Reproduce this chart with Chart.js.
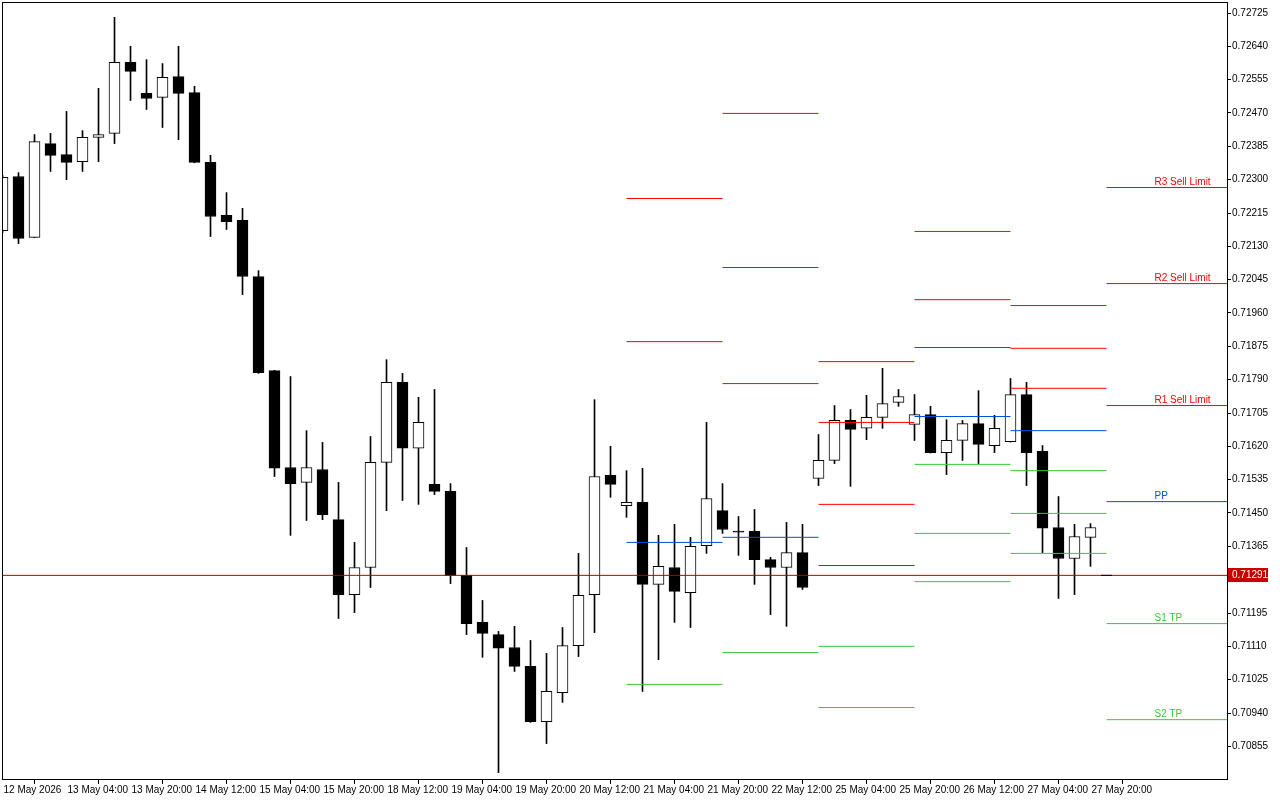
<!DOCTYPE html>
<html>
<head>
<meta charset="utf-8">
<script src="https://cdn.jsdelivr.net/npm/chart.js@4.4.1/dist/chart.umd.min.js"></script>
<style>
  html, body { margin: 0; padding: 0; background: #fff; }
  canvas { display: block; }
</style>
</head>
<body>
<canvas id="chart" width="1280" height="800"></canvas>
<script>
// 4h candles, index 0 = 12 May 12:00
const opens = [
  0.72170, 0.72308, 0.72153, 0.72392, 0.72364, 0.72346, 0.72408, 0.72418, 0.72599, 0.72520,
  0.72510, 0.72563, 0.72522, 0.72344, 0.72209, 0.72196, 0.72053, 0.71813, 0.71566, 0.71528,
  0.71561, 0.71433, 0.71242, 0.71311, 0.71579, 0.71783, 0.71615, 0.71523, 0.71505, 0.71291,
  0.71171, 0.71140, 0.71107, 0.71059, 0.70918, 0.70992, 0.71112, 0.71242, 0.71546, 0.71469,
  0.71477, 0.71268, 0.71311, 0.71247, 0.71367, 0.71456, 0.71404, 0.71403, 0.71331, 0.71311,
  0.71349, 0.71538, 0.71584, 0.71686, 0.71666, 0.71694, 0.71732, 0.71676, 0.71701, 0.71604,
  0.71635, 0.71678, 0.71622, 0.71632, 0.71752, 0.71607, 0.71413, 0.71334, 0.71388
];
const highs = [
  0.72311, 0.72318, 0.72415, 0.72418, 0.72474, 0.72425, 0.72533, 0.72714, 0.72640, 0.72606,
  0.72596, 0.72640, 0.72538, 0.72362, 0.72267, 0.72227, 0.72068, 0.71814, 0.71798, 0.71660,
  0.71630, 0.71528, 0.71375, 0.71645, 0.71841, 0.71806, 0.71745, 0.71765, 0.71525, 0.71362,
  0.71227, 0.71148, 0.71161, 0.71125, 0.71092, 0.71158, 0.71347, 0.71739, 0.71620, 0.71558,
  0.71564, 0.71393, 0.71421, 0.71388, 0.71681, 0.71525, 0.71441, 0.71459, 0.71337, 0.71426,
  0.71421, 0.71650, 0.71724, 0.71714, 0.71750, 0.71819, 0.71765, 0.71752, 0.71722, 0.71688,
  0.71686, 0.71762, 0.71699, 0.71793, 0.71783, 0.71622, 0.71492, 0.71421, 0.71423
];
const lows = [
  0.72165, 0.72137, 0.72152, 0.72321, 0.72300, 0.72321, 0.72346, 0.72392, 0.72502, 0.72479,
  0.72433, 0.72402, 0.72343, 0.72155, 0.72173, 0.72007, 0.71806, 0.71543, 0.71393, 0.71431,
  0.71433, 0.71181, 0.71196, 0.71260, 0.71456, 0.71482, 0.71472, 0.71497, 0.71270, 0.71140,
  0.71082, 0.70788, 0.71046, 0.70916, 0.70862, 0.70967, 0.71084, 0.71145, 0.71490, 0.71439,
  0.70995, 0.71076, 0.71171, 0.71158, 0.71347, 0.71398, 0.71342, 0.71268, 0.71191, 0.71161,
  0.71255, 0.71520, 0.71576, 0.71518, 0.71637, 0.71666, 0.71722, 0.71635, 0.71603, 0.71548,
  0.71584, 0.71576, 0.71604, 0.71631, 0.71520, 0.71349, 0.71232, 0.71242, 0.71314
];
const closes = [
  0.72306, 0.72150, 0.72397, 0.72362, 0.72344, 0.72408, 0.72415, 0.72599, 0.72576, 0.72507,
  0.72561, 0.72520, 0.72344, 0.72206, 0.72193, 0.72053, 0.71808, 0.71564, 0.71525, 0.71566,
  0.71446, 0.71242, 0.71311, 0.71579, 0.71783, 0.71615, 0.71681, 0.71505, 0.71291, 0.71168,
  0.71143, 0.71105, 0.71059, 0.70918, 0.70995, 0.71112, 0.71240, 0.71543, 0.71523, 0.71477,
  0.71268, 0.71314, 0.71250, 0.71365, 0.71487, 0.71408, 0.71401, 0.71331, 0.71311, 0.71349,
  0.71260, 0.71584, 0.71686, 0.71663, 0.71694, 0.71729, 0.71747, 0.71701, 0.71604, 0.71635,
  0.71678, 0.71625, 0.71666, 0.71752, 0.71604, 0.71411, 0.71334, 0.71390, 0.71413
];

// time axis
const xTickIdx = [0, 4, 8, 12, 16, 20, 24, 28, 32, 36, 40, 44, 48, 52, 56, 60, 64, 68];
const xTickLabels = [
  "12 May 2026", "13 May 04:00", "13 May 20:00", "14 May 12:00", "15 May 04:00", "15 May 20:00",
  "18 May 12:00", "19 May 04:00", "19 May 20:00", "20 May 12:00", "21 May 04:00", "21 May 20:00",
  "22 May 12:00", "25 May 04:00", "25 May 20:00", "26 May 12:00", "27 May 04:00", "27 May 20:00"
];
const yTicks = [
  0.72725, 0.72640, 0.72555, 0.72470, 0.72385, 0.72300, 0.72215, 0.72130, 0.72045, 0.71960,
  0.71875, 0.71790, 0.71705, 0.71620, 0.71535, 0.71450, 0.71365, 0.71280, 0.71195, 0.71110,
  0.71025, 0.70940, 0.70855
];

const X_MIN = 0.03125, X_MAX = 76.53125;
const Y_MIN = 0.707717, Y_MAX = 0.727505;

// daily pivot levels (21, 22, 25, 26, 27 May and the current one)
const pivotFrom = [39, 45, 51, 57, 63, 69];
const pivotTo = [45, 51, 57, 63, 69, X_MAX];
const r3 = [null, 0.72469, 0.71836, 0.72168, 0.71979, 0.72280];
const r2 = [0.72252, 0.72076, 0.71681, 0.71994, 0.71870, 0.72035];
const r1 = [0.71887, 0.71780, 0.71472, 0.71872, 0.71768, 0.71724];
const pp = [0.71375, 0.71388, 0.71316, 0.71696, 0.71660, 0.71479];
const s1 = [0.71013, 0.71094, 0.71110, 0.71574, 0.71558, 0.71168];
const s2 = [null, null, 0.70954, 0.71398, 0.71449, 0.70923];
const s3 = [null, null, null, 0.71275, 0.71347, null];

const tagNames = ["R3 Sell Limit", "R2 Sell Limit", "R1 Sell Limit", "PP", "S1 TP", "S2 TP"];
const tagX = 72;
const currentPrice = 0.71291;
const bidMark = [68.66, 69.34]; // short dark piece on the bid line

const RED = "#ff0000", BLUE = "#0050dc", GREEN = "#33cc33";

const idx = opens.map((_, i) => i);

function levelData(vals) {
  const pts = [];
  vals.forEach((v, k) => {
    if (v == null) return;
    pts.push({ x: pivotFrom[k], y: v }, { x: pivotTo[k], y: v }, { x: pivotTo[k], y: null });
  });
  return pts;
}
function levelSet(vals, color) {
  return {
    type: "line", data: levelData(vals), borderColor: color, borderWidth: 1,
    pointRadius: 0, tension: 0, order: 0
  };
}

const levelSets = [
  [r3, RED], [r2, RED], [r1, RED], [pp, BLUE], [s1, GREEN], [s2, GREEN], [s3, GREEN]
];
const last = pivotFrom.length - 1;
const tagLevels = [r3[last], r2[last], r1[last], pp[last], s1[last], s2[last]];
const tagColors = [RED, RED, RED, BLUE, GREEN, GREEN];

// chart frame, level tags and bid price box
const framePlugin = {
  id: "frame",
  afterDatasetsDraw(chart) {
    const { ctx, scales } = chart;
    ctx.save();
    ctx.font = "10px 'Liberation Sans', Arial, sans-serif";
    ctx.textAlign = "left";
    ctx.textBaseline = "alphabetic";
    tagNames.forEach((name, k) => {
      ctx.fillStyle = tagColors[k];
      ctx.fillText(name, scales.x.getPixelForValue(tagX), Math.round(scales.y.getPixelForValue(tagLevels[k])) - 3);
    });
    ctx.restore();
  },
  afterDraw(chart) {
    const { ctx, chartArea: a, scales } = chart;
    ctx.save();
    ctx.strokeStyle = "#000";
    ctx.lineWidth = 1;
    ctx.strokeRect(a.left - 0.5, a.top - 0.5, a.right - a.left + 1, a.bottom - a.top + 1);
    const py = Math.floor(scales.y.getPixelForValue(currentPrice));
    ctx.fillStyle = "#c80000";
    ctx.fillRect(a.right + 1, py - 7, 40, 14);
    ctx.fillStyle = "#fff";
    ctx.font = "10px 'Liberation Sans', Arial, sans-serif";
    ctx.textBaseline = "middle";
    ctx.fillText(currentPrice.toFixed(5), a.right + 5, py + 0.5);
    ctx.restore();
  }
};

Chart.defaults.font.family = "'Liberation Sans', Arial, sans-serif";
Chart.defaults.font.size = 10;
Chart.defaults.color = "#000";

const ctx = document.getElementById("chart").getContext("2d");
const chart = new Chart(ctx, {
  type: "bar",
  data: {
    datasets: [
      {
        type: "line",
        data: [{ x: bidMark[0], y: currentPrice }, { x: bidMark[1], y: currentPrice }],
        borderColor: "#000", borderWidth: 1, pointRadius: 0, order: -2
      },
      {
        type: "line",
        data: [{ x: X_MIN, y: currentPrice }, { x: X_MAX, y: currentPrice }],
        borderColor: "#b40000", borderWidth: 1, pointRadius: 0, order: -1
      },
      ...levelSets.map(([vals, color]) => levelSet(vals, color)),
      {
        // candle bodies
        data: idx.map(i => ({ x: i, y: [opens[i], closes[i]] })),
        backgroundColor: idx.map(i => (closes[i] >= opens[i] ? "#ffffff" : "#000000")),
        borderColor: "#000", borderWidth: 1, borderSkipped: false,
        barThickness: 11, grouped: false, order: 1, clip: 0
      },
      {
        // wicks
        data: idx.map(i => ({ x: i, y: [lows[i], highs[i]] })),
        backgroundColor: "#000", borderWidth: 0,
        barThickness: 1, grouped: false, order: 2, clip: 0
      }
    ]
  },
  options: {
    responsive: false,
    animation: false,
    events: [],
    layout: { padding: { left: 3, top: 3, right: 0, bottom: 0 }, autoPadding: false },
    plugins: { legend: { display: false }, tooltip: { enabled: false } },
    scales: {
      x: {
        type: "linear", min: X_MIN, max: X_MAX, offset: false,
        grid: { drawOnChartArea: false, drawTicks: true, tickLength: 5, tickColor: "#000" },
        border: { display: false },
        ticks: {
          autoSkip: false, maxRotation: 0, align: "start", labelOffset: 1, padding: 0,
          callback: (v, i) => xTickLabels[i]
        },
        afterBuildTicks: s => { s.ticks = xTickIdx.map(v => ({ value: v })); },
        afterFit: s => { s.height = 21; s.paddingLeft = 0; s.paddingRight = 0; }
      },
      y: {
        position: "right", min: Y_MIN, max: Y_MAX,
        grid: { drawOnChartArea: false, drawTicks: true, tickLength: 4, tickColor: "#000" },
        border: { display: false },
        ticks: { autoSkip: false, padding: 1, callback: v => v.toFixed(5) },
        afterBuildTicks: s => { s.ticks = yTicks.map(v => ({ value: v })); },
        afterFit: s => { s.width = 53; s.paddingTop = 0; s.paddingBottom = 0; }
      }
    }
  },
  plugins: [framePlugin]
});
</script>
</body>
</html>
